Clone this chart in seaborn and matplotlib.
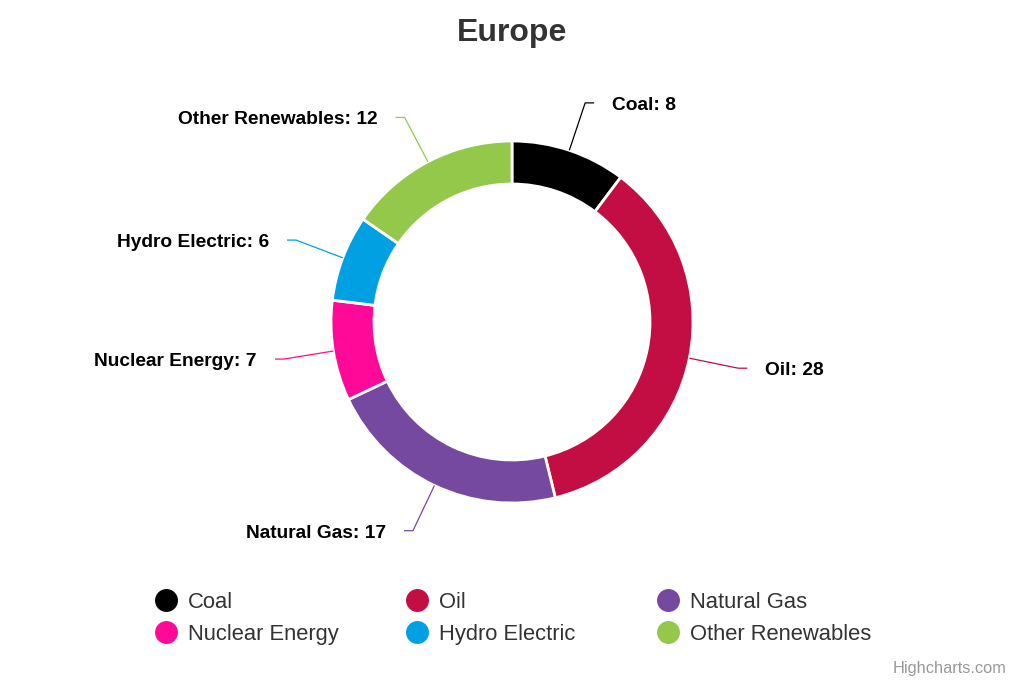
import matplotlib
matplotlib.use("Agg")
import matplotlib.pyplot as plt
import seaborn as sns
import numpy as np

# Chart data
title = "Europe"
categories = ["Coal", "Oil", "Natural Gas", "Nuclear Energy", "Hydro Electric", "Other Renewables"]
values = [8, 28, 17, 7, 6, 12]
colors = ["#000000", "#c20e42", "#7649a0", "#ff0a98", "#00a0e3", "#93c84a"]

sns.set_theme(style="white")
plt.rcParams['font.family'] = ['Liberation Sans', 'DejaVu Sans']

# Layout in pixels
W, H = 1024, 683
R_OUT, R_IN = 181.0, 138.0
CX, CY = 512, 322
CAP = 0.716  # cap height of Arial-like fonts, in em


def px(x, y):
    """pixel position (from top-left) -> data coords, 1 unit = outer radius"""
    return (x - CX) / R_OUT, (CY - y) / R_OUT


fig = plt.figure(figsize=(W / 100, H / 100), dpi=100)
ax = fig.add_axes([0, 0, 1, 1])

wedges, _ = ax.pie(values, colors=colors, startangle=90, counterclock=False, radius=1.0,
                   wedgeprops=dict(width=1 - R_IN / R_OUT, edgecolor='white', linewidth=2))

ax.set_xlim(-CX / R_OUT, (W - CX) / R_OUT)
ax.set_ylim(-(H - CY) / R_OUT, CY / R_OUT)
ax.set_aspect('equal')
ax.axis('off')

# Data labels with connectors
lab_fs = 13.8
lab_drop = CAP * lab_fs * 100 / 72 / 2 / R_OUT
for w, cat, val, col in zip(wedges, categories, values, colors):
    ang = np.deg2rad((w.theta1 + w.theta2) / 2)
    ux, uy = np.cos(ang), np.sin(ang)
    r1 = 1 + 50 / R_OUT
    side = 1 if ux > 0 else -1
    x1, y1 = r1 * ux, r1 * uy
    x2 = x1 + side * 9 / R_OUT
    ax.plot([ux, x1, x2], [uy, y1, y1], color=col, lw=0.9, solid_capstyle='butt')
    ax.text(x2 + side * 18 / R_OUT, y1 - lab_drop, f"{cat}: {val}",
            ha='left' if side > 0 else 'right', va='baseline',
            fontsize=lab_fs, fontweight='bold', color='black')

# Title
fig.text(0.5, 1 - 33 / H, title, ha='center', va='center',
         fontsize=23, fontweight='bold', color='#333333')

# Legend (3 columns, fixed item width like the original)
leg_fs = 15.8
leg_drop = CAP * leg_fs * 100 / 72 / 2
for i, (cat, col) in enumerate(zip(categories, colors)):
    lx = 166 + (i % 3) * 251
    ly = 600 + (i // 3) * 32
    mx, my = px(lx, ly)
    ax.plot([mx], [my], marker='o', markersize=15.5, color=col, clip_on=False)
    tx, ty = px(lx + 22, ly + leg_drop)
    ax.text(tx, ty, cat, ha='left', va='baseline', fontsize=leg_fs, color='#333333')

# Credits
fig.text(1007 / W, 1 - 668 / H, "Highcharts.com", ha='right', va='center',
         fontsize=11.8, color='#999999')

fig.savefig("out.png", dpi=100)
